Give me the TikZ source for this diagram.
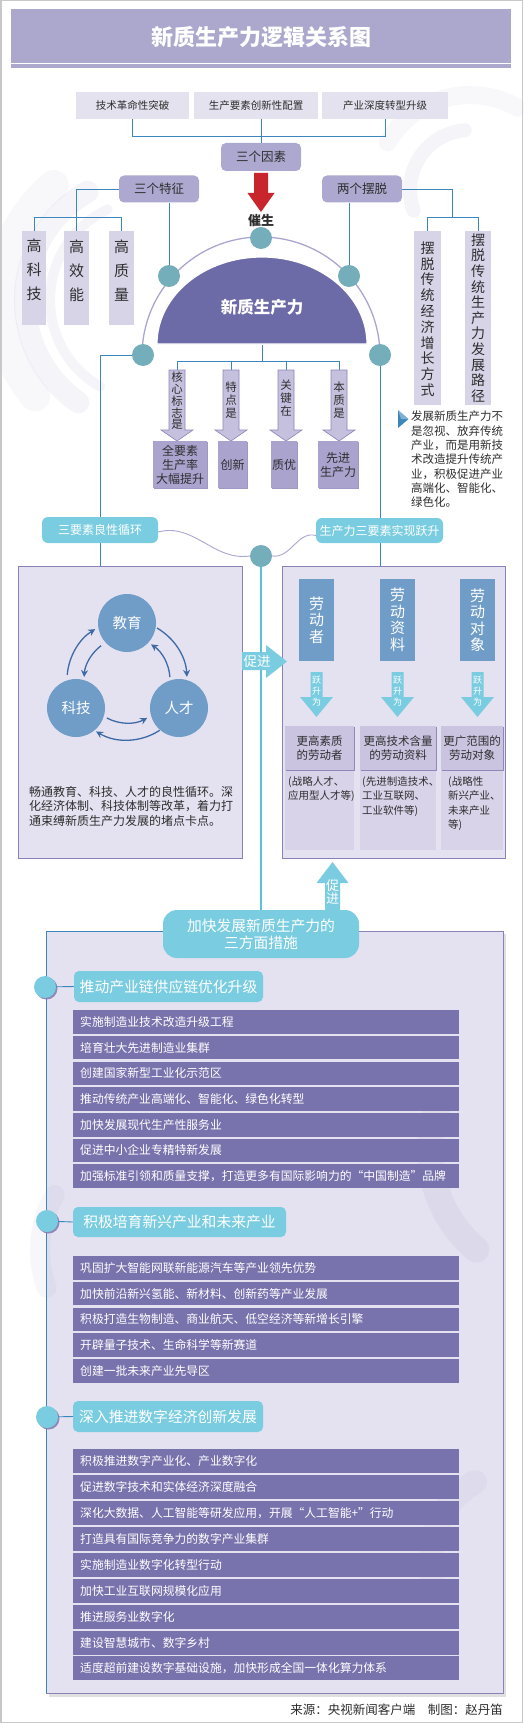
\documentclass[tikz,border=0pt]{standalone}
\usepackage{fontspec}
\setmainfont{Noto Sans CJK SC}
\usetikzlibrary{arrows.meta,calc,shadows}
\definecolor{titlebg}{HTML}{ABA7CD}
\definecolor{lightbox}{HTML}{E4E2EF}
\definecolor{midlav}{HTML}{ADA8D0}
\definecolor{connblue}{HTML}{3C86BE}
\definecolor{tealdot}{HTML}{74AEBB}
\definecolor{redarrow}{HTML}{C8262C}
\definecolor{semic}{HTML}{6D6AA8}
\definecolor{vlav}{HTML}{D8D4E8}
\definecolor{arrfill}{HTML}{C5C0DE}
\definecolor{arrline}{HTML}{8B86B8}
\definecolor{resfill}{HTML}{A9A3CE}
\definecolor{cyanc}{HTML}{7ACDE0}
\definecolor{cyanline}{HTML}{5BC2DA}
\definecolor{panelfill}{HTML}{E4E1F0}
\definecolor{panelline}{HTML}{8783B6}
\definecolor{steel}{HTML}{6F9DC8}
\definecolor{darkarr}{HTML}{3E6AA6}
\definecolor{itemc}{HTML}{7973AD}
\definecolor{txt}{HTML}{2E2E2E}
\definecolor{subfill}{HTML}{D8D3E9}
\definecolor{rbfill}{HTML}{CAC4E1}
\definecolor{shadowc}{HTML}{8580B5}
\definecolor{framec}{HTML}{C8C8C8}
\definecolor{arcc}{HTML}{ABA6CF}
\definecolor{swirl}{HTML}{9D97C6}
\pgfdeclarelayer{bottom}
\pgfdeclarelayer{back}
\pgfsetlayers{bottom,back,main}
\begin{document}
\begin{tikzpicture}[x=1pt,y=-1pt,
  topbox/.style={fill=lightbox,text=txt,inner sep=0pt,minimum height=27pt,font=\fontsize{10.5}{12}\selectfont},
  catbox/.style={fill=midlav,rounded corners=5pt,text=txt,inner sep=0pt,minimum width=80pt,minimum height=27pt,font=\fontsize{12.5}{14}\selectfont},
  vbox/.style={fill=vlav,inner sep=0pt},
  vtext/.style={text=txt,align=center,inner sep=0pt},
  dot/.style={circle,fill=tealdot,minimum size=22pt,inner sep=0pt},
  conn/.style={draw=connblue,line width=0.9pt},
  resbox/.style={fill=resfill,text=txt,align=center,inner sep=0pt,font=\fontsize{12}{14}\selectfont,drop shadow={shadow xshift=1.2pt,shadow yshift=-1.2pt,fill=shadowc,opacity=0.8}},
  cyanlab/.style={fill=cyanc,text=white,rounded corners=6pt,inner sep=0pt,font=\fontsize{12}{14}\selectfont},
  panel/.style={fill=panelfill,draw=panelline,line width=0.8pt,inner sep=0pt},
  bluec/.style={circle,fill=steel,text=white,minimum size=58pt,inner sep=0pt,font=\fontsize{14.5}{16}\selectfont},
  bluer/.style={fill=steel,text=white,minimum width=35pt,minimum height=82pt,inner sep=0pt,align=center,font=\fontsize{15}{16.5}\selectfont},
  cyc/.style={draw=darkarr,line width=1.3pt,-{Stealth[length=7pt,width=7pt]}},
  rbox/.style={fill=rbfill,text=txt,align=center,inner sep=0pt,minimum height=44pt,font=\fontsize{11.5}{13.5}\selectfont,drop shadow={shadow xshift=1.2pt,shadow yshift=-1.2pt,fill=shadowc,opacity=0.9}},
  subtext/.style={text=txt,align=left,anchor=north west,inner sep=0pt,font=\fontsize{10.5}{14.5}\selectfont},
  sechead/.style={fill=cyanc,text=white,rounded corners=5pt,inner sep=0pt,minimum height=31pt,font=\fontsize{14.8}{16}\selectfont},
  itembar/.style={fill=itemc,text=white,anchor=north west,inner xsep=7pt,inner ysep=0pt,text width=372pt,minimum height=23.5pt,align=left,font=\fontsize{11.8}{13}\selectfont},
  secdot/.style={circle,fill=cyanc,minimum size=22pt,inner sep=0pt,drop shadow={shadow xshift=1.5pt,shadow yshift=-1.5pt,fill=shadowc,opacity=0.9}},
  swirlline/.style={draw=swirl,line cap=round},
]
\useasboundingbox (0,0) rectangle (523,1723);
\begin{pgfonlayer}{bottom}
\fill[white] (0,0) rectangle (523,1723);
% faint background swirls
\draw[swirlline,opacity=0.10,line width=22pt] (150,300) ++(120:125pt) arc[start angle=120,end angle=235,radius=125pt];
\draw[swirlline,opacity=0.10,line width=10pt] (150,300) ++(115:100pt) arc[start angle=115,end angle=240,radius=100pt];
\draw[swirlline,opacity=0.07,line width=30pt] (150,300) ++(130:150pt) arc[start angle=130,end angle=220,radius=150pt];
\draw[swirlline,opacity=0.10,line width=14pt] (470,190) ++(95:60pt) arc[start angle=95,end angle=200,radius=60pt];
\draw[swirlline,opacity=0.07,line width=18pt] (470,190) ++(60:95pt) arc[start angle=60,end angle=150,radius=95pt];
\end{pgfonlayer}

% ---------- title
\fill[titlebg] (11,9) rectangle (511,63);
\fill[titlebg] (11,64.5) rectangle (511,68);
\node[text=white,font=\fontsize{22}{24}\selectfont\bfseries] (title) at (261,37) {新质生产力逻辑关系图};

% ---------- three factors
\node[topbox,minimum width=113pt] (t1) at (132.5,105.5) {技术革命性突破};
\node[topbox,minimum width=124pt] (t2) at (256,105.5) {生产要素创新性配置};
\node[topbox,minimum width=126pt] (t3) at (385,105.5) {产业深度转型升级};
\node[catbox,minimum height=28pt] (f) at (261,157) {三个因素};
\node[catbox] (c1) at (159,189) {三个特征};
\node[catbox] (c2) at (362,189) {两个摆脱};

\begin{pgfonlayer}{back}
\draw[conn] (t1.south) -- ++(0,17) -| (t3.south);
\draw[conn] (f.north) -- (f.north |- t2.south);
\end{pgfonlayer}

% red arrow
\fill[redarrow] (254,173) -- (268,173) -- (268,193) -- (274.5,193) -- (261,212) -- (247.5,193) -- (254,193) -- cycle;
\node[text=txt,font=\fontsize{13}{14}\selectfont\bfseries] (cs) at (261,221) {催生};

% three features boxes
\node[vbox,minimum width=24pt,minimum height=94pt] (v1) at (34,278) {};
\node[vbox,minimum width=25pt,minimum height=94pt] (v2) at (76.5,278) {};
\node[vbox,minimum width=25pt,minimum height=94pt] (v3) at (121.5,278) {};
\node[vtext,font=\fontsize{15}{24}\selectfont] (v1t) at (34,270) {高\\科\\技};
\node[vtext,font=\fontsize{15}{24}\selectfont] (v2t) at (76.5,271) {高\\效\\能};
\node[vtext,font=\fontsize{15}{24}\selectfont] (v3t) at (121.5,271) {高\\质\\量};

% two breaks boxes
\node[vbox,minimum width=27pt,minimum height=174pt] (w1) at (427.5,318) {};
\node[vbox,minimum width=26pt,minimum height=174pt] (w2) at (478,318) {};
\node[vtext,font=\fontsize{14}{15.8}\selectfont] (w1t) at (427.5,319) {摆\\脱\\传\\统\\经\\济\\增\\长\\方\\式};
\node[vtext,font=\fontsize{14}{15.6}\selectfont] (w2t) at (478,318) {摆\\脱\\传\\统\\生\\产\\力\\发\\展\\路\\径};
\coordinate (wj) at (452,218);

% dots
\node[dot] (ct) at (261,238) {};
\node[dot] (cl) at (169,276) {};
\node[dot] (cr) at (349,276) {};
\node[dot] (cll) at (143,355) {};
\node[dot] (clr) at (380,355) {};

\begin{pgfonlayer}{back}
\draw[draw=arcc,line width=1.3pt] (142,356) arc[start angle=180,end angle=0,radius=119pt];
\draw[conn] (v1.north) -- ++(0,-13) -| (v3.north);
\draw[conn] (c1.west) -| (v2.north);
\draw[conn] (w1.north) -- ++(0,-13) -| (w2.north);
\draw[conn] (c2.east) -| (wj);
\draw[conn] (cl) -- (cl |- c1.south);
\draw[conn] (cr) -- (cr |- c2.south);
\end{pgfonlayer}

% semicircle
\filldraw[fill=semic,draw=white,line width=1.2pt] (157,344) arc[start angle=180,end angle=0,x radius=105pt,y radius=87pt] -- cycle;
\node[text=white,font=\fontsize{16.5}{18}\selectfont\bfseries] (xz) at (262,307) {新质生产力};
\coordinate (sb) at (262,345);

% four arrows
\coordinate (a1) at (177,370);
\coordinate (a2) at (231,370);
\coordinate (a3) at (286,370);
\coordinate (a4) at (339,370);
\begin{pgfonlayer}{back}
\draw[conn] (sb) -- ++(0,16);
\draw[conn] (a1) -- ++(0,-9) -| (a4);
\draw[conn] (a2) -- ++(0,-9);
\draw[conn] (a3) -- ++(0,-9);
\end{pgfonlayer}
\foreach \X in {177,231,286,339}{
  \filldraw[fill=arrfill,draw=arrline,line width=0.6pt] (\X-8,370) -- (\X+8,370) -- (\X+8,430) -- (\X+16,430) -- (\X,441) -- (\X-16,430) -- (\X-8,430) -- cycle;
}
\node[vtext,font=\fontsize{11.5}{11.8}\selectfont] (a1t) at (177,401) {核\\心\\标\\志\\是};
\node[vtext,font=\fontsize{11.5}{13}\selectfont] (a2t) at (231,400) {特\\点\\是};
\node[vtext,font=\fontsize{11.5}{13}\selectfont] (a3t) at (286,398.5) {关\\键\\在};
\node[vtext,font=\fontsize{11.5}{13}\selectfont] (a4t) at (339,400) {本\\质\\是};

\node[resbox,minimum width=54pt,minimum height=47pt] (r1) at (180,464.5) {全要素\\生产率\\大幅提升};
\node[resbox,minimum width=29pt,minimum height=47pt] (r2) at (232.5,464.5) {创新};
\node[resbox,minimum width=26pt,minimum height=47pt] (r3) at (284,464.5) {质优};
\node[resbox,minimum width=40pt,minimum height=47pt] (r4) at (338,464.5) {先进\\生产力};

% right note
\fill[connblue] (398,410) -- (408.5,419) -- (398,428) -- cycle;
\fill[white,opacity=0.35] (398,410) -- (408.5,419) -- (401,419) -- cycle;
\node[text=txt,align=left,anchor=north west,inner sep=0pt,font=\fontsize{11.5}{14.3}\selectfont] (note) at (411,411) {发展新质生产力不\\是忽视、放弃传统\\产业，而是用新技\\术改造提升传统产\\业，积极促进产业\\高端化、智能化、\\绿色化。};

% ---------- middle
\node[cyanlab,minimum width=116pt,minimum height=26pt] (L1) at (100,530) {三要素良性循环};
\node[cyanlab,minimum width=127pt,minimum height=25pt] (L2) at (379.5,530.5) {生产力三要素实现跃升};
\node[dot] (cc) at (261,556) {};

\node[panel,minimum width=224pt,minimum height=292pt] (lp) at (130,712) {};
\node[panel,minimum width=223pt,minimum height=292pt] (rp) at (393.5,712) {};
\coordinate (lpt) at (100,566);

\node[cyanlab,rounded corners=14pt,minimum width=196pt,minimum height=48pt,align=center,font=\fontsize{14.8}{17}\selectfont] (m) at (261,934) {加快发展新质生产力的\\三方面措施};

\begin{pgfonlayer}{back}
\draw[conn] (cll) -| (lpt);
\draw[conn] (clr) -- (clr |- rp.north);
\draw[draw=arcc,line width=0.9pt] (L1.east) ++(0,2) to[out=15,in=-172] (cc.west);
\draw[draw=arcc,line width=0.9pt] (L2.west) ++(0,5) to[out=165,in=-8] (cc.east);
\draw[draw=cyanline,line width=2.6pt] (cc.south) -- (m.north);
\end{pgfonlayer}

% left panel: cycle
\coordinate (cen) at (127,680);
\node[bluec] (edu) at (127,623) {教育};
\node[bluec] (tech) at (76,708) {科技};
\node[bluec] (tal) at (179,708) {人才};
\draw[cyc] ($(cen)+(175:60pt)$) arc[start angle=175,end angle=122,radius=60pt];
\draw[cyc] ($(cen)+(60:60pt)$) arc[start angle=60,end angle=3,radius=60pt];
\draw[cyc] ($(cen)+(-57:60pt)$) arc[start angle=-57,end angle=-121,radius=60pt];
\draw[cyc] ($(cen)+(127:43pt)$) arc[start angle=127,end angle=176,radius=43pt];
\draw[cyc] ($(cen)+(4:43pt)$) arc[start angle=4,end angle=56,radius=43pt];
\draw[cyc] ($(cen)+(-118:43pt)$) arc[start angle=-118,end angle=-62,radius=43pt];
\node[text=txt,align=left,anchor=north west,inner sep=0pt,font=\fontsize{12}{14.5}\selectfont] (para) at (29,786) {畅通教育、科技、人才的良性循环。深\\化经济体制、科技体制等改革，着力打\\通束缚新质生产力发展的堵点卡点。};

% promote arrow right
\fill[cyanc] (242,652) -- (266,652) -- (266,645) -- (287,661.5) -- (266,678) -- (266,670) -- (242,670) -- cycle;
\node[text=white,font=\fontsize{13.5}{15}\selectfont] (pj) at (257,661) {促进};

% right panel
\node[bluer] (b1) at (316.5,620) {劳\\动\\者};
\node[bluer] (b2) at (397.5,620) {劳\\动\\资\\料};
\node[bluer] (b3) at (477.5,620) {劳\\动\\对\\象};
\foreach \X in {316.5,397.5,477.5}{
  \fill[cyanc] (\X-6,672) -- (\X+6,672) -- (\X+6,697) -- (\X+16.5,697) -- (\X,717) -- (\X-16.5,697) -- (\X-6,697) -- cycle;
}
\node[text=white,align=center,inner sep=0pt,font=\fontsize{9}{11}\selectfont] (j1) at (316.5,691) {跃\\升\\为};
\node[text=white,align=center,inner sep=0pt,font=\fontsize{9}{11}\selectfont] (j2) at (397.5,691) {跃\\升\\为};
\node[text=white,align=center,inner sep=0pt,font=\fontsize{9}{11}\selectfont] (j3) at (477.5,691) {跃\\升\\为};

\fill[subfill] (285,770) rectangle (354,850);
\fill[subfill] (360,770) rectangle (436,850);
\fill[subfill] (441,770) rectangle (503,850);
\node[rbox,minimum width=69pt] (rb1) at (319.5,748) {更高素质\\的劳动者};
\node[rbox,minimum width=76pt] (rb2) at (398,748) {更高技术含量\\的劳动资料};
\node[rbox,minimum width=62pt] (rb3) at (472,748) {更广范围的\\劳动对象};
\node[subtext] (st1) at (288,776) {(战略人才、\\应用型人才等)};
\node[subtext] (st2) at (362,776) {(先进制造技术、\\工业互联网、\\工业软件等)};
\node[subtext] (st3) at (448,776) {(战略性\\新兴产业、\\未来产业\\等)};

% promote arrow up
\fill[cyanc] (332.5,862) -- (348.5,883) -- (340,883) -- (340,910) -- (325,910) -- (325,883) -- (316.5,883) -- cycle;
\node[text=white,align=center,inner sep=0pt,font=\fontsize{13}{13.5}\selectfont] (pj2) at (332.5,892) {促\\进};

% ---------- bottom panel
\coordinate (pt) at (46,931);
\begin{pgfonlayer}{bottom}
\fill[black!12] (49,934) rectangle (506,1697);
\fill[panelfill] (46,931) rectangle (503,1693);
\draw[swirlline,opacity=0.10,line width=26pt] (560,1150) ++(160:130pt) arc[start angle=160,end angle=230,radius=130pt];
\draw[swirlline,opacity=0.08,line width=20pt] (150,1250) ++(150:110pt) arc[start angle=150,end angle=200,radius=110pt];
\draw[swirlline,opacity=0.08,line width=24pt] (520,1560) ++(120:90pt) arc[start angle=120,end angle=200,radius=90pt];
\draw[panelline,line width=0.9pt] (m.center |- pt) -| (503,1693) -- (46,1693);
\end{pgfonlayer}
\begin{pgfonlayer}{back}
\draw[conn] (m.center |- pt) -- (pt) -- (46,1693);
\end{pgfonlayer}

\node[secdot] (s1d) at (45,987) {};
\node[sechead,minimum width=189pt] (s1h) at (168.5,986.5) {推动产业链供应链优化升级};
\draw[conn] (s1d) -- (s1h.west);
\node[secdot] (s2d) at (47,1221) {};
\node[sechead,minimum width=213pt,minimum height=30pt] (s2h) at (179.5,1222) {积极培育新兴产业和未来产业};
\draw[conn] (s2d) -- (s2h.west);
\node[secdot] (s3d) at (47,1417) {};
\node[sechead,minimum width=190pt] (s3h) at (168,1416.5) {深入推进数字经济创新发展};
\draw[conn] (s3d) -- (s3h.west);

\foreach \t [count=\i from 0] in {实施制造业技术改造升级工程,培育壮大先进制造业集群,创建国家新型工业化示范区,推动传统产业高端化、智能化、绿色化转型,加快发展现代生产性服务业,促进中小企业专精特新发展,加强标准引领和质量支撑，打造更多有国际影响力的“中国制造”品牌}{
  \node[itembar] (s1i\i) at (73,1010+25.7*\i) {\t};
}
\foreach \t [count=\i from 0] in {巩固扩大智能网联新能源汽车等产业领先优势,加快前沿新兴氢能、新材料、创新药等产业发展,积极打造生物制造、商业航天、低空经济等新增长引擎,开辟量子技术、生命科学等新赛道,创建一批未来产业先导区}{
  \node[itembar] (s2i\i) at (73,1256+25.75*\i) {\t};
}
\foreach \t [count=\i from 0] in {积极推进数字产业化、产业数字化,促进数字技术和实体经济深度融合,深化大数据、人工智能等研发应用，开展“人工智能+”行动,打造具有国际竞争力的数字产业集群,实施制造业数字化转型行动,加快工业互联网规模化应用,推进服务业数字化,建设智慧城市、数字乡村,适度超前建设数字基础设施，加快形成全国一体化算力体系}{
  \node[itembar,minimum height=24pt] (s3i\i) at (73,1449+25.9*\i) {\t};
}

% footer
\node[anchor=east,text=txt,inner sep=0pt,font=\fontsize{12.5}{14}\selectfont] (foot) at (503,1710) {来源：央视新闻客户端\quad 制图：赵丹笛};

% frame
\draw[framec,line width=1.5pt] (0.75,0.75) rectangle (522.25,1722.25);
\end{tikzpicture}
\end{document}
